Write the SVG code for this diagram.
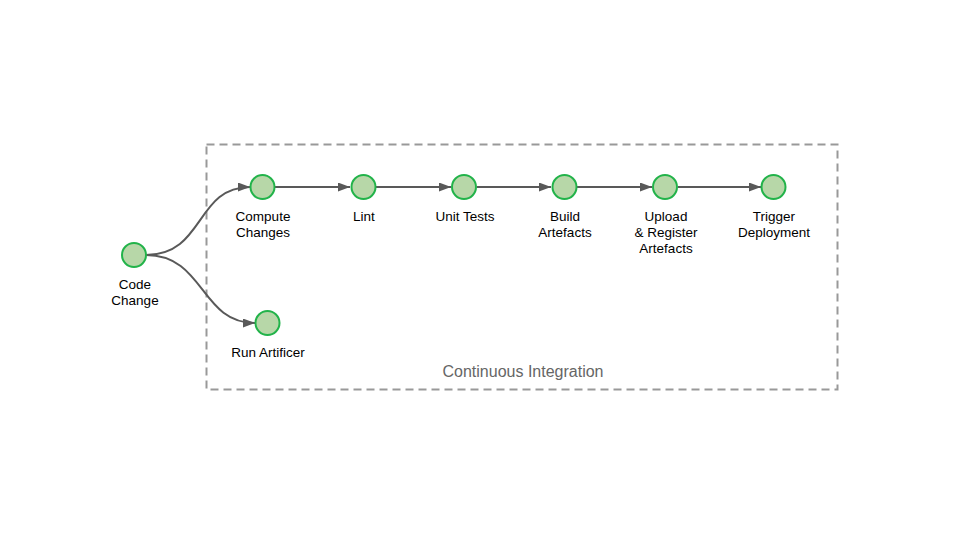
<svg xmlns="http://www.w3.org/2000/svg" width="960" height="540" viewBox="0 0 960 540">
<defs>
<marker id="arr" markerWidth="12" markerHeight="9" refX="12" refY="4.5" orient="auto" markerUnits="userSpaceOnUse">
<path d="M0,0 L12,4.5 L0,9 Z" fill="#595959"/>
</marker>
<style>
.n{fill:#b7d7a8;stroke:#22b34a;stroke-width:2}
.t{font-family:"Liberation Sans",Arial,sans-serif;font-size:13.5px;fill:#000;text-anchor:middle}
.e{fill:none;stroke:#595959;stroke-width:2}
</style>
</defs>
<rect width="960" height="540" fill="#fff"/>
<g id="ci-group">
<rect x="206.5" y="144.5" width="631" height="245" fill="none" stroke="#999" stroke-width="2" stroke-dasharray="8,5"/>
<text x="523" y="377" style="font-family:'Liberation Sans',Arial,sans-serif;font-size:16px;fill:#666;text-anchor:middle">Continuous Integration</text>
</g>
<g id="connectors">
<path class="e" d="M146,255 C205,255 195,187 250,187" marker-end="url(#arr)"/>
<path class="e" d="M146,255 C205,255 200,323 255,323" marker-end="url(#arr)"/>
<path class="e" d="M275,187 L350,187" marker-end="url(#arr)"/>
<path class="e" d="M376,187 L451,187" marker-end="url(#arr)"/>
<path class="e" d="M477,187 L551,187" marker-end="url(#arr)"/>
<path class="e" d="M577,187 L652,187" marker-end="url(#arr)"/>
<path class="e" d="M678,187 L761,187" marker-end="url(#arr)"/>
</g>
<g id="code-change">
<circle class="n" cx="134" cy="255" r="12"/>
<text class="t" x="135" y="289">Code</text>
<text class="t" x="135" y="305">Change</text>
</g>
<g id="compute-changes">
<circle class="n" cx="262.5" cy="187" r="12"/>
<text class="t" x="263" y="221">Compute</text>
<text class="t" x="263" y="237">Changes</text>
</g>
<g id="run-artificer">
<circle class="n" cx="267.5" cy="323" r="12"/>
<text class="t" x="268" y="357">Run Artificer</text>
</g>
<g id="lint">
<circle class="n" cx="363.5" cy="187" r="12"/>
<text class="t" x="364" y="221">Lint</text>
</g>
<g id="unit-tests">
<circle class="n" cx="464" cy="187" r="12"/>
<text class="t" x="465" y="221">Unit Tests</text>
</g>
<g id="build-artefacts">
<circle class="n" cx="564.5" cy="187" r="12"/>
<text class="t" x="565" y="221">Build</text>
<text class="t" x="565" y="237">Artefacts</text>
</g>
<g id="upload-register">
<circle class="n" cx="665" cy="187" r="12"/>
<text class="t" x="666" y="221">Upload</text>
<text class="t" x="666" y="237">&amp; Register</text>
<text class="t" x="666" y="253">Artefacts</text>
</g>
<g id="trigger-deployment">
<circle class="n" cx="773.5" cy="187" r="12"/>
<text class="t" x="774" y="221">Trigger</text>
<text class="t" x="774" y="237">Deployment</text>
</g>
</svg>
